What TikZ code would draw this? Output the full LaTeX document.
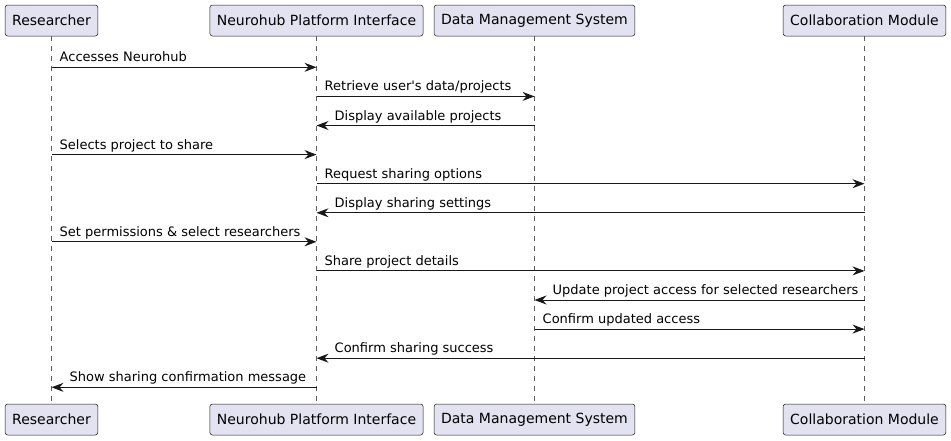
\documentclass[tikz,border=0pt]{standalone}
\usepackage{fontspec}
\setmainfont{DejaVu Sans}
\usepackage{xcolor}
\usepackage{tikz}
\usetikzlibrary{calc}
\usetikzlibrary{positioning}
\usetikzlibrary{arrows.meta}

\definecolor{partfill}{HTML}{E2E2F0}
\definecolor{partline}{HTML}{181818}

\begin{document}
\begin{tikzpicture}[x=1pt,y=-1pt]
  \tikzset{part/.style={draw=partline,fill=partfill,line width=0.5pt,rounded corners=2.5pt,font=\fontsize{14}{16}\selectfont,minimum height=31pt,inner xsep=7pt,inner ysep=0pt}};
  \tikzset{life/.style={draw=partline!70,line width=0.5pt,dash pattern=on 5pt off 5pt}};
  \tikzset{msg/.style={draw=partline,line width=0.9pt,-{Stealth[length=12pt,width=9pt,inset=4pt]}}};
  \tikzset{lbl/.style={font=\fontsize{13}{15}\selectfont,inner sep=0pt}};
  \useasboundingbox (0,0) rectangle (951,440);
  \node [part] (rs) at (51.5,20.5) {Researcher};
  \node [part] (nh) at (316.5,20.5) {Neurohub Platform Interface};
  \node [part] (dm) at (534.5,20.5) {Data Management System};
  \node [part] (cm) at (864.5,20.5) {Collaboration Module};
  \node [part] (rsb) at (51.5,419.5) {Researcher};
  \node [part] (nhb) at (316.5,419.5) {Neurohub Platform Interface};
  \node [part] (dmb) at (534.5,419.5) {Data Management System};
  \node [part] (cmb) at (864.5,419.5) {Collaboration Module};
  \path[life] (rs) -- (rsb);
  \path[life] (nh) -- (nhb);
  \path[life] (dm) -- (dmb);
  \path[life] (cm) -- (cmb);
  % messages
  \path[msg] (rs |- 0,67.3) -- (nh |- 0,67.3);
  \node [lbl, anchor=base west] (m1) at ($(rs |- 0,67.3)+(8,-5.5)$) {Accesses Neurohub};
  \path[msg] (nh |- 0,96.4) -- (dm |- 0,96.4);
  \node [lbl, anchor=base west] (m2) at ($(nh |- 0,96.4)+(8,-5.5)$) {Retrieve user\textquotesingle s data/projects};
  \path[msg] (dm |- 0,125.5) -- (nh |- 0,125.5);
  \node [lbl, anchor=base west] (m3) at ($(nh |- 0,125.5)+(18,-5.5)$) {Display available projects};
  \path[msg] (rs |- 0,154.6) -- (nh |- 0,154.6);
  \node [lbl, anchor=base west] (m4) at ($(rs |- 0,154.6)+(8,-5.5)$) {Selects project to share};
  \path[msg] (nh |- 0,183.7) -- (cm |- 0,183.7);
  \node [lbl, anchor=base west] (m5) at ($(nh |- 0,183.7)+(8,-5.5)$) {Request sharing options};
  \path[msg] (cm |- 0,212.8) -- (nh |- 0,212.8);
  \node [lbl, anchor=base west] (m6) at ($(nh |- 0,212.8)+(18,-5.5)$) {Display sharing settings};
  \path[msg] (rs |- 0,241.8) -- (nh |- 0,241.8);
  \node [lbl, anchor=base west] (m7) at ($(rs |- 0,241.8)+(8,-5.5)$) {Set permissions \& select researchers};
  \path[msg] (nh |- 0,270.9) -- (cm |- 0,270.9);
  \node [lbl, anchor=base west] (m8) at ($(nh |- 0,270.9)+(8,-5.5)$) {Share project details};
  \path[msg] (cm |- 0,300.0) -- (dm |- 0,300.0);
  \node [lbl, anchor=base west] (m9) at ($(dm |- 0,300.0)+(18,-5.5)$) {Update project access for selected researchers};
  \path[msg] (dm |- 0,329.1) -- (cm |- 0,329.1);
  \node [lbl, anchor=base west] (m10) at ($(dm |- 0,329.1)+(8,-5.5)$) {Confirm updated access};
  \path[msg] (cm |- 0,358.2) -- (nh |- 0,358.2);
  \node [lbl, anchor=base west] (m11) at ($(nh |- 0,358.2)+(18,-5.5)$) {Confirm sharing success};
  \path[msg] (nh |- 0,387.3) -- (rs |- 0,387.3);
  \node [lbl, anchor=base west] (m12) at ($(rs |- 0,387.3)+(18,-5.5)$) {Show sharing confirmation message};
\end{tikzpicture}
\end{document}
